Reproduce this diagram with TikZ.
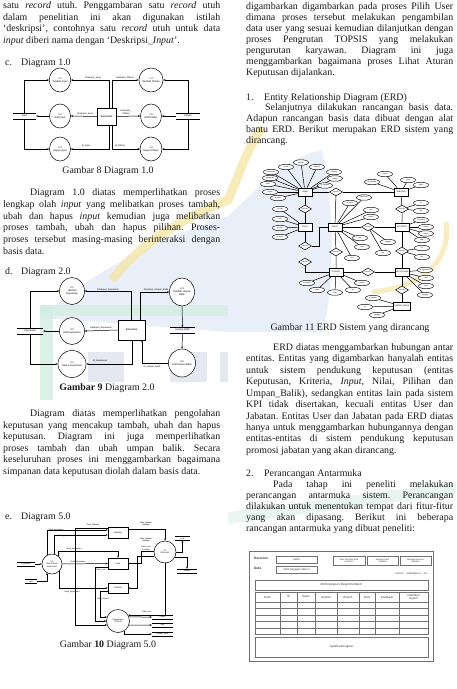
\documentclass[tikz,border=0pt]{standalone}
\usepackage{fontspec}
\setmainfont{Liberation Serif}
\newfontfamily\dsf{Liberation Sans}
\usetikzlibrary{shapes.geometric,arrows.meta}
\definecolor{wmblue}{HTML}{E3ECF7}
\definecolor{wmyel}{HTML}{F5E6A6}
\definecolor{wmgreen}{HTML}{D3EDE2}
\definecolor{wmlav}{HTML}{DFE2EE}
\definecolor{ink}{HTML}{1A1A1A}
\definecolor{uigray}{HTML}{707070}
\newcommand{\jl}[2]{\makebox[#1pt][s]{#2}}
\tikzset{
 tx/.style={anchor=base west,inner sep=0pt,text=ink,font=\fontsize{9.9}{11}\selectfont\frenchspacing},
 txc/.style={anchor=base,inner sep=0pt,text=ink,font=\fontsize{9.9}{11}\selectfont\frenchspacing},
 proc/.style={ellipse,draw,line width=0.5pt,fill=white,inner sep=0pt,align=center,font=\dsf\fontsize{2.5}{3}\selectfont},
 dbox/.style={rectangle,draw,fill=white,line width=0.5pt,inner sep=0pt,font=\dsf\fontsize{2.6}{3}\selectfont},
 lbl/.style={inner sep=0pt,align=center,font=\dsf\fontsize{2.3}{2.7}\selectfont},
 tiny/.style={inner sep=0pt,align=center,font=\dsf\fontsize{2}{2.3}\selectfont},
 fl/.style={line width=0.5pt},
 ar/.style={line width=0.5pt,-{Stealth[length=2.2pt,width=1.8pt]}},
 el/.style={line width=0.5pt},
 store/.style={inner sep=0pt,minimum width=#1,minimum height=5.5pt,font=\dsf\fontsize{2.4}{2.8}\selectfont,
   append after command={(\tikzlastnode.north west) edge[fl] (\tikzlastnode.north east) (\tikzlastnode.south west) edge[fl] (\tikzlastnode.south east)}},
 ent/.style={rectangle,draw,fill=white,line width=0.6pt,minimum width=14pt,minimum height=8pt,inner sep=0pt,font=\dsf\fontsize{2.1}{2.3}\selectfont},
 att/.style={ellipse,draw,fill=white,line width=0.45pt,minimum width=15pt,minimum height=5.5pt,inner sep=0pt,font=\dsf\fontsize{1.8}{2}\selectfont},
 rel/.style={diamond,draw,fill=white,line width=0.5pt,minimum width=13pt,minimum height=8pt,inner sep=0pt,aspect=1.6,font=\dsf\fontsize{1.6}{2}\selectfont},
 uibox/.style={rectangle,draw=uigray,line width=0.45pt,inner sep=0pt,align=center,text=black!80,font=\dsf\fontsize{2.6}{3}\selectfont},
 uitx/.style={inner sep=0pt,text=black!80,font=\dsf\fontsize{3.2}{3.6}\selectfont},
}
\begin{document}
\begin{tikzpicture}[x=1pt,y=-1pt]
\useasboundingbox (0,0) rectangle (456,689);
\fill[white] (0,0) rectangle (456,689);
% ---------------- watermark ----------------
\fill[wmblue,opacity=0.8] (40,318) .. controls (90,272) and (160,238) .. (228,216) .. controls (262,185) and (285,158) .. (322,150) .. controls (335,220) and (335,290) .. (322,332) -- (228,332) -- (100,322) -- cycle;
\draw[wmyel,line width=9pt,opacity=0.8] (112,280) .. controls (140,242) and (190,215) .. (228,200) .. controls (238,178) and (246,150) .. (262,128);
\draw[wmyel,line width=5pt,opacity=0.7] (372,292) .. controls (420,288) and (452,262) .. (446,222);
\fill[wmgreen,opacity=0.8] (40,305) rectangle (228,316);
\fill[wmgreen,opacity=0.8] (40,305) rectangle (53,400);
\fill[wmgreen,opacity=0.5] (228,512) -- (456,482) -- (456,494) -- (228,524) -- cycle;
\fill[wmlav,opacity=0.8] (88,352) rectangle (124,382);
\fill[wmlav,opacity=0.8] (170,352) rectangle (207,382);
\fill[wmlav,opacity=0.8] (220,352) rectangle (228,382);
% ---------------- left column text ----------------
\node[tx] (L1) at (3,8) {\jl{217}{satu \textit{record} utuh. Penggambaran satu \textit{record} utuh}};
\node[tx] (L2) at (3,20) {\jl{217}{dalam penelitian ini akan digunakan istilah}};
\node[tx] (L3) at (3,31.5) {\jl{217}{`deskripsi', contohnya satu \textit{record} utuh untuk data}};
\node[tx] (L4) at (3,43) {\textit{input} diberi nama dengan `Deskripsi\_\textit{Input}'.};
\node[tx] (Hc) at (5,65) {c.};
\node[tx] (Hc2) at (21,65) {Diagram 1.0};
\node[txc] (cap8) at (108,173) {Gambar 8 Diagram 1.0};
\node[tx] (P1) at (30,195) {\jl{190}{Diagram 1.0 diatas memperlihatkan proses}};
\node[tx] (P2) at (3,207) {\jl{217}{lengkap olah \textit{input} yang melibatkan proses tambah,}};
\node[tx] (P3) at (3,219) {\jl{217}{ubah dan hapus \textit{input} kemudian juga melibatkan}};
\node[tx] (P4) at (3,230.5) {\jl{217}{proses tambah, ubah dan hapus pilihan. Proses-}};
\node[tx] (P5) at (3,242) {\jl{217}{proses tersebut masing-masing berinteraksi dengan}};
\node[tx] (P6) at (3,254) {basis data.};
\node[tx] (Hd) at (5,274) {d.};
\node[tx] (Hd2) at (21,274) {Diagram 2.0};
\node[txc] (cap9) at (107,390) {\textbf{Gambar 9} Diagram 2.0};
\node[tx] (Q1) at (30,416) {\jl{190}{Diagram diatas memperlihatkan pengolahan}};
\node[tx] (Q2) at (3,428) {\jl{217}{keputusan yang mencakup tambah, ubah dan hapus}};
\node[tx] (Q3) at (3,439.5) {\jl{217}{keputusan. Diagram ini juga memperlihatkan}};
\node[tx] (Q4) at (3,451) {\jl{217}{proses tambah dan ubah umpan balik. Secara}};
\node[tx] (Q5) at (3,462.5) {\jl{217}{keseluruhan proses ini menggambarkan bagaimana}};
\node[tx] (Q6) at (3,474) {simpanan data keputusan diolah dalam basis data.};
\node[tx] (He) at (5,519) {e.};
\node[tx] (He2) at (21,519) {Diagram 5.0};
\node[txc] (cap10) at (108,647) {Gambar \textbf{10} Diagram 5.0};
% ---------------- right column text ----------------
\node[tx] (R1) at (246,9) {\jl{207}{digambarkan digambarkan pada proses Pilih User}};
\node[tx] (R2) at (246,20) {\jl{207}{dimana proses tersebut melakukan pengambilan}};
\node[tx] (R3) at (246,31) {\jl{207}{data user yang sesuai kemudian dilanjutkan dengan}};
\node[tx] (R4) at (246,42) {\jl{207}{proses Pengrutan TOPSIS yang melakukan}};
\node[tx] (R5) at (246,53) {\jl{207}{pengurutan karyawan. Diagram ini juga}};
\node[tx] (R6) at (246,64) {\jl{207}{menggambarkan bagaimana proses Lihat Aturan}};
\node[tx] (R7) at (246,75) {Keputusan dijalankan.};
\node[tx] (H1) at (246,100) {1.};
\node[tx] (H1b) at (264,100) {Entity Relationship Diagram (ERD)};
\node[tx] (R8) at (265,110.5) {\jl{188}{Selanjutnya dilakukan rancangan basis data.}};
\node[tx] (R9) at (246,121.5) {\jl{207}{Adapun rancangan basis data dibuat dengan alat}};
\node[tx] (R10) at (246,132.5) {\jl{207}{bantu ERD. Berikut merupakan ERD sistem yang}};
\node[tx] (R11) at (246,143) {dirancang.};
\node[txc] (cap11) at (350,330) {Gambar 11 ERD Sistem yang dirancang};
\node[tx] (R12) at (273,350) {\jl{180}{ERD diatas menggambarkan hubungan antar}};
\node[tx] (R13) at (246,361.5) {\jl{207}{entitas. Entitas yang digambarkan hanyalah entitas}};
\node[tx] (R14) at (246,373) {\jl{207}{untuk sistem pendukung keputusan (entitas}};
\node[tx] (R15) at (246,384.5) {\jl{207}{Keputusan, Kriteria, \textit{Input}, Nilai, Pilihan dan}};
\node[tx] (R16) at (246,396) {\jl{207}{Umpan\_Balik), sedangkan entitas lain pada sistem}};
\node[tx] (R17) at (246,407.5) {\jl{207}{KPI tidak disertakan, kecuali entitas User dan}};
\node[tx] (R18) at (246,419) {\jl{207}{Jabatan. Entitas User dan Jabatan pada ERD diatas}};
\node[tx] (R19) at (246,430) {\jl{207}{hanya untuk menggambarkan hubungannya dengan}};
\node[tx] (R20) at (246,441.5) {\jl{207}{entitas-entitas di sistem pendukung keputusan}};
\node[tx] (R21) at (246,453) {promosi jabatan yang akan dirancang.};
\node[tx] (H2) at (246,476.5) {2.};
\node[tx] (H2b) at (264,476.5) {Perancangan Antarmuka};
\node[tx] (R22) at (273,487.5) {\jl{180}{Pada tahap ini peneliti melakukan}};
\node[tx] (R23) at (246,498.5) {\jl{207}{perancangan antarmuka sistem. Perancangan}};
\node[tx] (R24) at (246,509.5) {\jl{207}{dilakukan untuk menentukan tempat dari fitur-fitur}};
\node[tx] (R25) at (246,520.5) {\jl{207}{yang akan dipasang. Berikut ini beberapa}};
\node[tx] (R26) at (246,531.5) {rancangan antarmuka yang dibuat peneliti:};
% ---------------- Diagram 1.0 ----------------
\draw[fl] (109,80) -- (109,149);
\draw[fl] (112,80) -- (112,149);
\node[proc,minimum width=21pt,minimum height=24pt] (p11) at (60,80) {1.1\\Tambah Input};
\node[proc,minimum width=21pt,minimum height=24pt] (p12) at (60,116) {1.2\\Edit Input};
\node[proc,minimum width=21pt,minimum height=24pt] (p13) at (60,149) {1.3\\Hapus Input};
\node[proc,minimum width=21pt,minimum height=24pt] (p14) at (151,80) {1.4\\Tambah Pilihan};
\node[proc,minimum width=21pt,minimum height=24pt] (p15) at (151,116) {1.5\\Edit Pilihan};
\node[proc,minimum width=21pt,minimum height=24pt] (p16) at (151,149) {1.6\\Hapus Pilihan};
\node[dbox,minimum width=19pt,minimum height=17pt] (db1) at (106.5,116.5) {Basisdata};
\node[store=23] (sIn) at (24.5,116) {Input};
\node[store=24] (sPil) at (188,116) {Pilihan};
\draw[ar] (sIn.north) |- (p11.west);
\draw[ar] (p12.west) -- (sIn.east);
\draw[ar] (sIn.south) |- (p13.west);
\draw[ar] ([xshift=2.5pt]db1.north) |- (p11.east);
\draw[ar] (db1.west) -- (p12.east);
\draw[ar] ([xshift=2.5pt]db1.south) |- (p13.east);
\draw[ar] ([xshift=5.5pt]db1.north) |- (p14.west);
\draw[ar] (db1.east) -- (p15.west);
\draw[ar] ([xshift=5.5pt]db1.south) |- (p16.west);
\draw[ar] (sPil.north) |- (p14.east);
\draw[ar] (sPil.west) -- (p15.east);
\draw[ar] (sPil.south) |- (p16.east);
\node[lbl] (l11) at (93,77.5) {Deskripsi\_Input};
\node[lbl] (l12) at (85,113.5) {Deskripsi\_Input};
\node[lbl] (l13) at (86,146) {Id\_Input};
\node[lbl] (l14) at (125,77.5) {Deskripsi\_Pilihan};
\node[lbl] (l15) at (126,112) {Deskripsi\_\\Pilihan};
\node[lbl] (l16) at (120,146) {Id\_Pilihan};
% ---------------- Diagram 2.0 ----------------
\node[proc,minimum width=25pt,minimum height=27pt] (p21) at (72,291) {2.1\\Tambah\\Keputusan};
\node[proc,minimum width=25pt,minimum height=27pt] (p22) at (72,331) {2.2\\Edit Keputusan};
\node[proc,minimum width=25pt,minimum height=27pt] (p23) at (72,364) {2.3\\Hapus Keputusan};
\node[proc,minimum width=24pt,minimum height=28pt] (p24) at (182,292) {2.4\\Tambah Umpan\\Balik};
\node[proc,minimum width=24pt,minimum height=28pt] (p25) at (182,363) {2.5\\Edit Umpan Balik};
\node[dbox,minimum width=27pt,minimum height=20pt] (db2) at (131.5,330) {Basisdata};
\node[store=26] (sKep) at (30,331) {Keputusan};
\node[store=25] (sUB) at (182.5,330) {Umpan\_Balik};
\draw[ar] (sKep.north) |- (p21.west);
\draw[ar] (p22.west) -- (sKep.east);
\draw[ar] (sKep.south) |- (p23.west);
\draw[ar] (db2.north) |- (p21.east);
\draw[ar] (db2.west) -- (p22.east);
\draw[ar] ([xshift=1pt]db2.south) |- (p23.east);
\draw[ar] ([xshift=8.5pt]db2.north) |- (p24.west);
\draw[ar] (p24.south) -- (sUB.north);
\draw[ar] (sUB.south) -- (p25.north);
\draw[ar] (p25.west) -| ([xshift=10.5pt]db2.south);
\node[lbl] (l21) at (108,289.5) {Deskripsi\_Keputusan};
\node[lbl] (l22) at (101,327.5) {Deskripsi\_Keputusan};
\node[lbl] (l23) at (100,360.5) {Id\_Keputusan};
\node[lbl] (l24) at (156,289.5) {Deskripsi\_Umpan\_Balik};
\node[lbl] (l25) at (152,367) {Id\_Umpan\_Balik};
% ---------------- Diagram 5.0 ----------------
\node[proc,circle,minimum size=20pt,font=\dsf\fontsize{2.1}{2.5}\selectfont] (c51) at (52,564) {5.1\\Lihat Aturan\\Keputusan};
\node[proc,circle,minimum size=22pt,font=\dsf\fontsize{2.1}{2.5}\selectfont] (c52) at (165,552) {5.2\\Pilih User};
\node[proc,circle,minimum size=23pt,font=\dsf\fontsize{2.1}{2.5}\selectfont] (c53) at (118,621) {Pengurutan\\TOPSIS};
\node[dbox,minimum width=20pt,minimum height=11pt,font=\dsf\fontsize{2.2}{2.5}\selectfont] (r51) at (118,532.5) {Jabatan};
\node[dbox,minimum width=20pt,minimum height=11pt,font=\dsf\fontsize{2.2}{2.5}\selectfont] (r52) at (118,563.5) {User};
\node[dbox,minimum width=20pt,minimum height=10pt,font=\dsf\fontsize{2.2}{2.5}\selectfont] (r53) at (118,588) {Kriteria};
\node[store=18,minimum height=4pt,font=\dsf\fontsize{1.9}{2.2}\selectfont] (s51) at (26,564) {Keputusan};
\node[store=12,minimum height=4pt,font=\dsf\fontsize{1.9}{2.2}\selectfont] (s52) at (31,581.5) {Nilai};
\node[store=15,minimum height=4pt,font=\dsf\fontsize{1.9}{2.2}\selectfont] (s53) at (182.5,538.5) {User};
\node[store=20,minimum height=4pt,font=\dsf\fontsize{1.9}{2.2}\selectfont] (s54) at (187,571) {Jabatan};
\node[store=21,minimum height=4pt,font=\dsf\fontsize{1.9}{2.2}\selectfont] (s55) at (162.5,617) {Pilihan};
\node[store=21,minimum height=4pt,font=\dsf\fontsize{1.9}{2.2}\selectfont] (s56) at (162.5,625) {Nilai};
\node[store=21,minimum height=4pt,font=\dsf\fontsize{1.9}{2.2}\selectfont] (s57) at (162.5,634) {Umpan\_Balik};
\draw[ar] (c51.120) |- ([yshift=2.5pt]r51.west);
\draw[ar] (c51.80) |- ([yshift=-2.5pt]r51.west);
\draw[ar] (c51.50) |- ([yshift=7pt]r52.north) -- (r52.north);
\draw[ar] (c51.east) -- (r52.west);
\draw[ar] (c51.-45) |- (r53.west);
\draw[ar] (s51.east) -- (c51.west);
\draw[ar] (s52.east) -| (c51.-120);
\draw[ar] ([yshift=4pt]r51.west) -- ++(-33,0) |- (c53.200);
\draw[ar] ([yshift=-3.5pt]r52.west) -- ++(-13,0) |- (c53.180);
\draw[ar] ([yshift=-3pt]r53.west) -- ++(-8,0) |- (c53.160);
\draw[ar] ([yshift=3pt]r51.east) -| (c52.north);
\draw[ar] (c52.175) -- ++(-13,0) |- (r52.east);
\draw[ar] (c52.200) -- ++(-17,0) |- (r53.east);
\draw[ar] (c52.east) -| (s53.south);
\draw[ar] (c52.-30) -| (s54.north);
\draw[ar] (c52.south) |- (c53.30);
\draw[ar] (c53.20) -- (s55.west);
\draw[ar] (c53.-20) -- (s56.west);
\draw[ar] (c53.-55) |- (s57.west);
\node[tiny] (l51) at (56,530) {Desk\_keputusan};
\node[tiny] (l52) at (66,535.5) {Desk\_keputusan};
\node[tiny] (l53) at (74,548.5) {Desk\_keputusan};
\node[tiny] (l54) at (78,561.5) {Desk\_keputusan};
\node[tiny] (l55) at (72,591.5) {Desk\_keputusan};
\node[tiny] (l56) at (93,524.5) {Data\_Jabatan};
\node[tiny] (l57) at (101,570.5) {Data\_user};
\node[tiny] (l58) at (103,599) {Data\_Kriteria};
\node[tiny] (l59) at (146,524) {Data\_jabatan\\Lengkap};
\node[tiny] (l60) at (146,540) {Data\_jabatan\\Lengkap};
\node[tiny] (l61) at (146,548.5) {Data\_user\\Lengkap};
\node[tiny] (l62) at (147,612.5) {Data\_user};
% ---------------- ERD ----------------
\node[ent] (eU) at (305,192) {USER};
\node[ent] (eJ) at (401,192) {JABATAN};
\node[ent] (eN) at (305,227) {NILAI};
\node[ent] (eI) at (335,227) {INPUT};
\node[ent] (eK) at (402,227) {KRITERIA};
\node[ent] (eP) at (336,272) {PILIHAN};
\node[ent] (eD) at (402,272) {KEPUTUSAN};
\node[ent,minimum width=17pt] (eB) at (402,306) {UMPAN\_BALIK};
\node[rel] (rA) at (336,192) {memiliki};
\node[rel] (rB) at (305,209) {memiliki};
\node[rel] (rC) at (305,246) {memiliki};
\node[rel] (rD) at (336,252) {memiliki};
\node[rel] (rE) at (305,262) {memiliki};
\node[rel] (rF) at (368,227) {memiliki};
\node[rel] (rG) at (402,209) {memiliki};
\node[rel] (rH) at (402,251) {memiliki};
\node[rel] (rI) at (368,272) {memiliki};
\node[rel] (rJ) at (402,290) {memiliki};
\draw[el] (eU) -- (rA) -- (eJ);
\draw[el] (rA) -- (eI);
\draw[el] (eU) -- (rB) -- (eN);
\draw[el] (eN) -- (rC);
\draw[el] (rC.east) -| ([xshift=-8pt]eI.west) -- (eI.west);
\draw[el] (eI) -- (rD) -- (eP);
\draw[el] (rE.south) |- (eP.west);
\draw[el] (eI) -- (rF) -- (eK);
\draw[el] (eJ) -- (rG) -- (eK);
\draw[el] (eK) -- (rH) -- (eD);
\draw[el] (eP) -- (rI) -- (eD);
\draw[el] (eD) -- (rJ) -- (eB);
\foreach \x/\y/\t/\e [count=\i] in {
 271/172/username/eU, 270/178/password/eU, 268/184/level/eU, 270/192/email/eU, 278/198/id\_user/eU,
 286/167/nama/eU, 301/162.5/alamat/eU, 317/167/telepon/eU, 334/172/cabang/eU, 335/178.5/status/eU, 325/185.5/id\_jabatan/eU,
 385/174/nama/eJ, 408/180/level/eJ, 421/185/divisi/eJ, 372/182/id\_jabatan/eJ,
 280/209/id\_nilai/eN, 280/219/nilai/eN, 280/228/id\_user/eN, 280/237/id\_input/eN,
 350/203/id\_input/eI, 364/197.5/deskripsi/eI, 371/210/tipe/eI, 371/217/bobot/eI, 360/238/min/eI, 362/247/max/eI, 352/258/ket/eI,
 388/242/tanggal/rF, 383/253/ket/rF,
 421/203/id/rG, 421/211/ket/rG,
 421/220/id\_kriteria/eK, 426/227/nama/eK, 426/233.5/bobot/eK, 422/240/sifat/eK,
 422/248/id/rH, 422/257/ket/rH,
 425/270/id\_keputusan/eD, 426/278/nilai/eD, 426/286/rank/eD, 425/295/tanggal/eD,
 373/298/id\_umpan/eB, 365/307/isi/eB, 377/315/tanggal/eB,
 307/283/id\_pilihan/eP, 317/290/nama/eP, 335/292.5/nilai/eP, 353/290/ket/eP, 362/283/urutan/eP}
 {\node[att] (at\i) at (\x,\y) {\t}; \draw[el] (at\i) -- (\e);}
% ---------------- UI mockup ----------------
\node[rectangle,draw=uigray,line width=0.6pt,minimum width=184pt,minimum height=110pt,inner sep=0pt,anchor=north west] (frame) at (249,551) {};
\node[uitx,anchor=west,font=\dsf\bfseries\fontsize{3.3}{3.6}\selectfont] (uDec) at (254,558.5) {Decision};
\node[uitx,anchor=west,font=\dsf\bfseries\fontsize{3.3}{3.6}\selectfont] (uDate) at (254,568.5) {Date};
\node[uibox,minimum width=41pt,minimum height=7pt] (uB1) at (296.5,559.5) {<pilih>};
\node[uibox,minimum width=41pt,minimum height=7pt] (uB2) at (296.5,569.5) {<Pilih Tanggal><tahun>};
\node[uibox,minimum width=32pt,minimum height=9pt,font=\dsf\fontsize{2.2}{2.5}\selectfont] (uV) at (349,560.5) {View Decision Rule\\<tombol>};
\node[uibox,minimum width=31pt,minimum height=9pt,font=\dsf\fontsize{2.2}{2.5}\selectfont] (uM1) at (382.5,560.5) {Manage Input\\<tombol>};
\node[uibox,minimum width=31pt,minimum height=9pt,font=\dsf\fontsize{2.2}{2.5}\selectfont] (uM2) at (415.5,560.5) {Manage Decision\\<tombol>};
\node[uitx,anchor=east,font=\dsf\fontsize{2.7}{3}\selectfont] (uOut) at (427,573.5) {... out of ... employees (...\%)};
\node[uibox,minimum width=173pt,minimum height=10pt,font=\dsf\fontsize{3}{3.4}\selectfont] (uAll) at (341.5,585) {All Employee's Report<tombol>};
\node[rectangle,draw=uigray,line width=0.45pt,minimum width=173pt,minimum height=42pt,inner sep=0pt,anchor=north west] (uTab) at (255,592) {};
\foreach \cx in {280,297,315,337,359,375,399} {\draw[uigray,line width=0.4pt] (\cx,592) -- (\cx,634);}
\foreach \ry/\lw in {602/0.6,608.5/0.4,615/0.4,621.5/0.4,628/0.4} {\draw[uigray,line width=\lw pt] (255,\ry) -- (428,\ry);}
\foreach \hx/\hlab [count=\j] in {267.5/Rank,288.5/ID,306/Name,326/Position,348/Branch,367/Point,387/Feedback,413.5/{Individual\\Report}}
 {\node[uitx,align=center,font=\dsf\fontsize{2.8}{3.1}\selectfont] (uh\j) at (\hx,597) {\hlab};}
\node[uibox,minimum width=173pt,minimum height=20pt,font=\dsf\fontsize{3}{3.4}\selectfont] (uG) at (341.5,647) {<grafik peringkat>};
\end{tikzpicture}
\end{document}
